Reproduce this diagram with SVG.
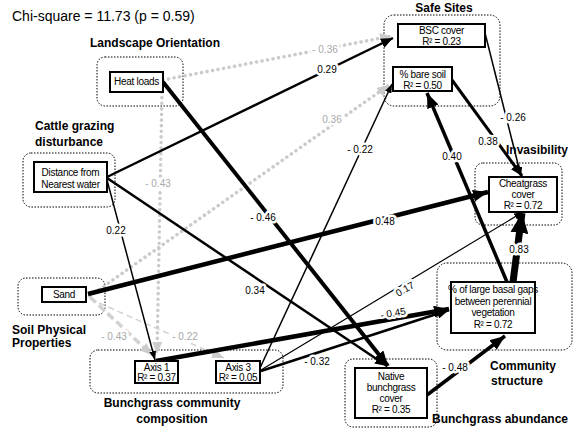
<svg xmlns="http://www.w3.org/2000/svg" width="576" height="432" viewBox="0 0 576 432">
<style>
text{font-family:"Liberation Sans",Arial,sans-serif;}
.grp{fill:none;stroke:#000;stroke-width:1;stroke-dasharray:1.5 1.5;}
.box{fill:#fff;stroke:#000;stroke-width:2;}
.nt{font-size:10px;text-anchor:middle;letter-spacing:-0.3px;fill:#000;}
.sec{font-size:12px;font-weight:bold;fill:#000;}
.el{font-size:10px;text-anchor:middle;paint-order:stroke;stroke:#fff;stroke-width:5px;stroke-linejoin:round;fill:#000;}
.elg{fill:#a8a8a8;}
.e{fill:none;stroke:#000;}
.gd{fill:none;stroke:#cbcbcb;stroke-linecap:round;stroke-dasharray:0.1 5.5;stroke-width:3.5;}
.gs{fill:none;stroke:#d2d2d2;}
</style>
<defs>
<marker id="a" markerUnits="userSpaceOnUse" markerWidth="12" markerHeight="10" refX="12" refY="5" orient="auto"><path d="M0,0 L12,5 L0,10 z" fill="#000"/></marker>
<marker id="aL" markerUnits="userSpaceOnUse" markerWidth="15" markerHeight="12" refX="15" refY="6" orient="auto"><path d="M0,0 L15,6 L0,12 z" fill="#000"/></marker>
<marker id="aS" markerUnits="userSpaceOnUse" markerWidth="9" markerHeight="7" refX="9" refY="3.5" orient="auto"><path d="M0,0 L9,3.5 L0,7 z" fill="#000"/></marker>
<marker id="aXL" markerUnits="userSpaceOnUse" markerWidth="20" markerHeight="18" refX="20" refY="9" orient="auto"><path d="M0,0 L20,9 L0,18 z" fill="#000"/></marker>
<marker id="aG" markerUnits="userSpaceOnUse" markerWidth="12" markerHeight="10" refX="12" refY="5" orient="auto"><path d="M0,0 L12,5 L0,10 z" fill="#cbcbcb"/></marker>
</defs>
<rect width="576" height="432" fill="#fff"/>
<text x="12" y="21" style="font-size:14px">Chi-square = 11.73 (p = 0.59)</text>

<g id="group-frames">
<rect class="grp" x="97" y="57" width="86" height="49" rx="8"/>
<rect class="grp" x="23" y="153" width="92" height="54" rx="8"/>
<rect class="grp" x="18" y="278" width="87" height="37" rx="8"/>
<rect class="grp" x="90" y="350" width="193" height="43" rx="8"/>
<rect class="grp" x="384" y="15" width="116" height="91" rx="10"/>
<rect class="grp" x="475" y="163" width="87" height="62" rx="8"/>
<rect class="grp" x="437" y="263" width="135" height="87" rx="10"/>
<rect class="grp" x="345" y="359" width="92" height="68" rx="8"/>
</g>

<g id="connectors">
<line class="gd" x1="163" y1="80" x2="392" y2="36" marker-end="url(#aG)"/>
<line class="gd" x1="162" y1="92" x2="157" y2="354" marker-end="url(#aG)"/>
<line class="gd" x1="90" y1="296" x2="389" y2="85" marker-end="url(#aG)"/>
<line class="gs" x1="90" y1="297" x2="152" y2="355" stroke-width="3.5" stroke-dasharray="8 4" marker-end="url(#aG)"/>
<line class="gs" x1="90" y1="299" x2="224" y2="358" stroke-width="1.5" stroke-dasharray="6 4" marker-end="url(#aG)"/>

<line class="e" x1="107" y1="177" x2="393" y2="38" stroke-width="2.5" marker-end="url(#a)"/>
<line class="e" x1="107" y1="178" x2="387" y2="366" stroke-width="2.5" marker-end="url(#a)"/>
<line class="e" x1="107" y1="180" x2="155" y2="360" stroke-width="1.5" marker-end="url(#aS)"/>
<line class="e" x1="163" y1="82" x2="388" y2="366" stroke-width="4" marker-end="url(#aL)"/>
<line class="e" x1="88" y1="294" x2="488" y2="192" stroke-width="4.5" marker-end="url(#aL)"/>
<line class="e" x1="156" y1="361" x2="449" y2="309" stroke-width="4.5" marker-end="url(#aL)"/>
<line class="e" x1="261" y1="371" x2="449" y2="310" stroke-width="2.5" marker-end="url(#a)"/>
<line class="e" x1="261" y1="370" x2="523" y2="212" stroke-width="1.2" marker-end="url(#aS)"/>
<line class="e" x1="260" y1="368" x2="392" y2="84" stroke-width="1.5" marker-end="url(#aS)"/>
<line class="e" x1="507" y1="282" x2="427" y2="93" stroke-width="3.5" marker-end="url(#aL)"/>
<line class="e" x1="513" y1="282" x2="522" y2="213" stroke-width="7" marker-end="url(#aXL)"/>
<line class="e" x1="452" y1="80" x2="522" y2="176" stroke-width="3" marker-end="url(#a)"/>
<line class="e" x1="485" y1="33" x2="521" y2="176" stroke-width="1.5" marker-end="url(#aS)"/>
<line class="e" x1="427" y1="395" x2="505" y2="336" stroke-width="3.5" marker-end="url(#aL)"/>
</g>

<g id="connector-labels">
<text class="el elg" x="325" y="52.5">- 0.36</text>
<text class="el" x="327" y="72.5">0.29</text>
<text class="el elg" x="332" y="122.5">0.36</text>
<text class="el elg" x="158" y="186.5">- 0.43</text>
<text class="el" x="263" y="220.5">- 0.46</text>
<text class="el" x="116" y="233.5">0.22</text>
<text class="el" x="360" y="152.5">- 0.22</text>
<text class="el" x="452" y="159.5">0.40</text>
<text class="el" x="488" y="144.5">0.38</text>
<text class="el" x="513" y="120.5">- 0.26</text>
<text class="el" x="385" y="224.5">0.48</text>
<text class="el" x="519" y="252.5">0.83</text>
<text class="el" x="255" y="293.5">0.34</text>
<text class="el" x="0" y="0" transform="translate(405,289) rotate(-30)" dy="3.5">0.17</text>
<text class="el" x="0" y="0" transform="translate(393,313) rotate(-10)" dy="3.5">- 0.45</text>
<text class="el" x="317" y="364.5">- 0.32</text>
<text class="el" x="455" y="370.5">- 0.48</text>
<text class="el elg" x="114" y="339.5">- 0.43</text>
<text class="el elg" x="185" y="339.5">- 0.22</text>
</g>

<g id="node-heat-loads">
<rect class="box" x="110" y="72" width="53" height="20"/>
<text class="nt" x="136.5" y="85">Heat loads</text>
</g>
<g id="node-distance">
<rect class="box" x="34" y="162" width="73" height="30"/>
<text class="nt" x="70.5" y="176">Distance from</text>
<text class="nt" x="70.5" y="188">Nearest water</text>
</g>
<g id="node-sand">
<rect class="box" x="42" y="287" width="44" height="15"/>
<text class="nt" x="64" y="298">Sand</text>
</g>
<g id="node-axis1">
<rect class="box" x="135" y="361" width="43" height="22"/>
<text class="nt" x="156.5" y="370.5">Axis 1</text>
<text class="nt" x="156.5" y="381">R² = 0.37</text>
</g>
<g id="node-axis3">
<rect class="box" x="216" y="361" width="44" height="22"/>
<text class="nt" x="238" y="370.5">Axis 3</text>
<text class="nt" x="238" y="381">R² = 0.05</text>
</g>
<g id="node-bsc">
<rect class="box" x="398" y="24" width="87" height="23"/>
<text class="nt" x="441.5" y="34">BSC cover</text>
<text class="nt" x="441.5" y="45">R² = 0.23</text>
</g>
<g id="node-bare-soil">
<rect class="box" x="393" y="67" width="59" height="24"/>
<text class="nt" x="422.5" y="78">% bare soil</text>
<text class="nt" x="422.5" y="89">R² = 0.50</text>
</g>
<g id="node-cheatgrass">
<rect class="box" x="489" y="177" width="68" height="35"/>
<text class="nt" x="523" y="187">Cheatgrass</text>
<text class="nt" x="523" y="198">cover</text>
<text class="nt" x="523" y="209">R² = 0.72</text>
</g>
<g id="node-basal-gaps">
<rect class="box" x="451" y="282" width="84" height="51"/>
<text class="nt" x="493" y="293">% of large basal gaps</text>
<text class="nt" x="493" y="304.5">between perennial</text>
<text class="nt" x="493" y="316">vegetation</text>
<text class="nt" x="493" y="327.5">R² = 0.72</text>
</g>
<g id="node-native">
<rect class="box" x="355" y="368" width="72" height="50"/>
<text class="nt" x="391" y="380">Native</text>
<text class="nt" x="391" y="391">bunchgrass</text>
<text class="nt" x="391" y="402">cover</text>
<text class="nt" x="391" y="413">R² = 0.35</text>
</g>

<g id="section-labels">
<text class="sec" x="90" y="47">Landscape Orientation</text>
<text class="sec" x="35" y="130">Cattle grazing</text>
<text class="sec" x="35" y="146">disturbance</text>
<text class="sec" x="12" y="334">Soil Physical</text>
<text class="sec" x="12" y="347">Properties</text>
<text class="sec" x="172" y="407" text-anchor="middle">Bunchgrass community</text>
<text class="sec" x="172" y="423" text-anchor="middle">composition</text>
<text class="sec" x="444" y="12" text-anchor="middle">Safe Sites</text>
<text class="sec" x="506" y="154">Invasibility</text>
<text class="sec" x="490" y="370">Community</text>
<text class="sec" x="491" y="385">structure</text>
<text class="sec" x="432" y="423">Bunchgrass abundance</text>
</g>
</svg>
